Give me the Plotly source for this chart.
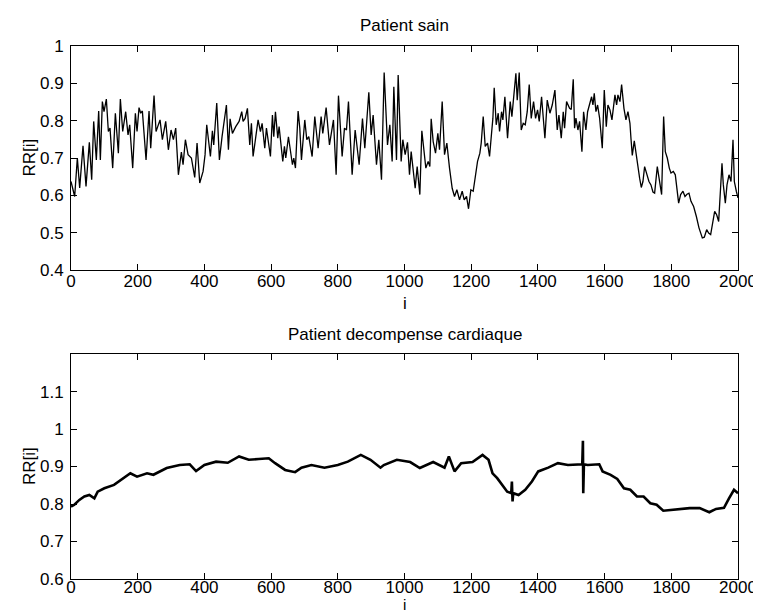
import plotly.graph_objects as go

# ---- Data (index, RR value) ----
sain_i = [0, 11, 19, 26, 36, 45, 55, 62, 68, 76, 83, 88, 94, 99, 106, 112, 117, 125, 133, 142,
          148, 155, 164, 171, 176, 185, 193, 198, 204, 209, 214, 225, 234, 239, 249, 255, 260, 267,
          274, 284, 292, 300, 307, 314, 322, 331, 336, 343, 351, 361, 371, 378, 386, 396, 402, 407,
          418, 424, 428, 437, 445, 453, 466, 472, 477, 484, 494, 504, 512, 516, 522, 529, 536, 541,
          546, 561, 568, 573, 581, 586, 598, 604, 608, 613, 620, 624, 635, 640, 644, 652, 664, 668,
          673, 681, 686, 691, 701, 707, 713, 723, 731, 741, 750, 755, 765, 775, 787, 795, 802, 808,
          813, 820, 826, 832, 843, 852, 864, 874, 881, 893, 900, 906, 916, 923, 931, 939, 949, 956,
          963, 968, 976, 981, 990, 995, 1002, 1009, 1015, 1020, 1032, 1038, 1046, 1052, 1058, 1064,
          1071, 1076, 1080, 1086, 1093, 1100, 1105, 1113, 1120, 1127, 1135, 1143, 1150, 1157, 1165,
          1173, 1179, 1186, 1192, 1199, 1206, 1212, 1219, 1226, 1230, 1236, 1242, 1249, 1255, 1261,
          1265, 1269, 1275, 1281, 1285, 1291, 1295, 1301, 1309, 1317, 1322, 1328, 1334, 1338, 1344,
          1350, 1356, 1362, 1368, 1374, 1380, 1387, 1393, 1399, 1404, 1411, 1421, 1428, 1436, 1443,
          1451, 1458, 1463, 1470, 1476, 1480, 1486, 1495, 1500, 1506, 1510, 1514, 1520, 1525, 1532,
          1537, 1544, 1549, 1554, 1561, 1565, 1569, 1574, 1579, 1585, 1593, 1599, 1605, 1610, 1616,
          1622, 1626, 1631, 1636, 1640, 1646, 1651, 1658, 1664, 1670, 1676, 1679, 1683, 1689, 1693,
          1699, 1705, 1710, 1715, 1720, 1727, 1733, 1739, 1745, 1750, 1758, 1771, 1777, 1782, 1788,
          1794, 1799, 1806, 1812, 1822, 1828, 1835, 1841, 1847, 1853, 1859, 1867, 1875, 1883, 1893,
          1899, 1906, 1912, 1918, 1924, 1930, 1936, 1942, 1952, 1956, 1962, 1967, 1973, 1979, 1985,
          1989, 1995, 2000]
sain_rr = [0.637, 0.597, 0.700, 0.620, 0.733, 0.624, 0.742, 0.642, 0.798, 0.695, 0.826, 0.695, 0.851,
           0.824, 0.858, 0.771, 0.780, 0.673, 0.820, 0.713, 0.858, 0.771, 0.824, 0.762, 0.789, 0.673,
           0.820, 0.771, 0.835, 0.820, 0.826, 0.695, 0.826, 0.726, 0.867, 0.771, 0.784, 0.802, 0.749,
           0.798, 0.722, 0.775, 0.749, 0.780, 0.655, 0.716, 0.682, 0.749, 0.709, 0.700, 0.648, 0.740,
           0.633, 0.664, 0.709, 0.789, 0.704, 0.773, 0.735, 0.847, 0.695, 0.758, 0.842, 0.722, 0.805,
           0.766, 0.784, 0.798, 0.824, 0.798, 0.806, 0.833, 0.735, 0.793, 0.704, 0.802, 0.771, 0.793,
           0.726, 0.780, 0.704, 0.815, 0.757, 0.824, 0.753, 0.784, 0.691, 0.731, 0.700, 0.757, 0.682,
           0.700, 0.673, 0.826, 0.780, 0.695, 0.802, 0.749, 0.757, 0.704, 0.811, 0.726, 0.811, 0.766,
           0.835, 0.735, 0.802, 0.655, 0.867, 0.793, 0.704, 0.780, 0.775, 0.851, 0.655, 0.775, 0.682,
           0.806, 0.726, 0.876, 0.762, 0.815, 0.682, 0.749, 0.642, 0.929, 0.735, 0.789, 0.691, 0.891,
           0.695, 0.922, 0.691, 0.749, 0.709, 0.742, 0.655, 0.717, 0.619, 0.677, 0.602, 0.773, 0.713,
           0.673, 0.691, 0.677, 0.805, 0.744, 0.713, 0.766, 0.722, 0.851, 0.709, 0.740, 0.673, 0.619,
           0.597, 0.615, 0.588, 0.611, 0.588, 0.597, 0.564, 0.615, 0.611, 0.655, 0.691, 0.713, 0.740,
           0.811, 0.731, 0.740, 0.704, 0.766, 0.806, 0.888, 0.789, 0.820, 0.771, 0.824, 0.802, 0.864,
           0.753, 0.851, 0.811, 0.869, 0.927, 0.855, 0.929, 0.775, 0.793, 0.789, 0.824, 0.897, 0.806,
           0.851, 0.806, 0.829, 0.798, 0.864, 0.753, 0.855, 0.820, 0.842, 0.882, 0.775, 0.815, 0.753,
           0.824, 0.780, 0.851, 0.833, 0.830, 0.911, 0.780, 0.807, 0.775, 0.798, 0.717, 0.824, 0.775,
           0.824, 0.842, 0.864, 0.842, 0.873, 0.824, 0.842, 0.807, 0.726, 0.882, 0.784, 0.842, 0.829,
           0.802, 0.838, 0.869, 0.842, 0.869, 0.851, 0.897, 0.833, 0.802, 0.824, 0.793, 0.753, 0.707,
           0.746, 0.717, 0.673, 0.646, 0.621, 0.637, 0.677, 0.655, 0.637, 0.628, 0.609, 0.606, 0.677,
           0.602, 0.811, 0.717, 0.700, 0.673, 0.660, 0.664, 0.655, 0.579, 0.602, 0.611, 0.597, 0.603,
           0.606, 0.584, 0.570, 0.544, 0.513, 0.486, 0.488, 0.508, 0.499, 0.495, 0.522, 0.557, 0.548,
           0.530, 0.686, 0.628, 0.579, 0.628, 0.655, 0.637, 0.749, 0.637, 0.611, 0.593]

decomp_i = [0, 10, 25, 40, 55, 70, 80, 90, 100, 129, 159, 178, 198, 228, 247, 267, 287, 326, 356,
            375, 400, 435, 470, 504, 533, 563, 593, 612, 642, 672, 691, 721, 760, 800, 830, 869,
            898, 928, 938, 977, 1017, 1046, 1086, 1120, 1133, 1150, 1170, 1204, 1234, 1252, 1264,
            1278, 1293, 1308, 1320, 1322, 1324, 1326, 1342, 1362, 1382, 1401, 1431, 1460, 1490,
            1520, 1533, 1535, 1536, 1538, 1549, 1584, 1594, 1618, 1638, 1658, 1677, 1697, 1717,
            1737, 1756, 1776, 1796, 1825, 1855, 1885, 1914, 1934, 1958, 1973, 1988, 2000]
decomp_rr = [0.793, 0.798, 0.811, 0.820, 0.824, 0.815, 0.833, 0.838, 0.842, 0.851, 0.869, 0.882,
             0.873, 0.882, 0.878, 0.887, 0.896, 0.904, 0.906, 0.888, 0.904, 0.913, 0.910, 0.927,
             0.918, 0.920, 0.922, 0.909, 0.891, 0.885, 0.897, 0.904, 0.897, 0.904, 0.913, 0.931,
             0.918, 0.897, 0.904, 0.918, 0.912, 0.896, 0.912, 0.897, 0.927, 0.887, 0.909, 0.912,
             0.931, 0.918, 0.882, 0.869, 0.851, 0.833, 0.829, 0.860, 0.807, 0.829, 0.824, 0.838,
             0.860, 0.887, 0.897, 0.909, 0.904, 0.906, 0.906, 0.969, 0.829, 0.906, 0.904, 0.906,
             0.887, 0.878, 0.867, 0.842, 0.838, 0.820, 0.820, 0.802, 0.798, 0.782, 0.784, 0.786,
             0.789, 0.789, 0.778, 0.787, 0.790, 0.815, 0.838, 0.829]

x_ticks = [0, 200, 400, 600, 800, 1000, 1200, 1400, 1600, 1800, 2000]
top_yticks = [0.4, 0.5, 0.6, 0.7, 0.8, 0.9, 1.0]
top_ylabels = ["0.4", "0.5", "0.6", "0.7", "0.8", "0.9", "1"]
bot_yticks = [0.6, 0.7, 0.8, 0.9, 1.0, 1.1]
bot_ylabels = ["0.6", "0.7", "0.8", "0.9", "1", "1.1"]

FONT = "Liberation Sans, Arial, Helvetica, sans-serif"
FS = 17

fig = go.Figure()
fig.add_trace(go.Scatter(x=sain_i, y=sain_rr, mode="lines",
                         line=dict(color="black", width=1.3), xaxis="x", yaxis="y",
                         showlegend=False, hoverinfo="skip"))
fig.add_trace(go.Scatter(x=decomp_i, y=decomp_rr, mode="lines",
                         line=dict(color="black", width=2.6), xaxis="x2", yaxis="y2",
                         showlegend=False, hoverinfo="skip"))

axis_common = dict(showline=True, linecolor="black", linewidth=1, mirror="ticks",
                   ticks="inside", ticklen=6, tickwidth=1, tickcolor="black",
                   showgrid=False, zeroline=False,
                   tickfont=dict(family=FONT, size=FS, color="black"))

fig.update_layout(
    width=761, height=612,
    margin=dict(l=63, r=22, t=38, b=41),
    paper_bgcolor="white", plot_bgcolor="white",
    font=dict(family=FONT, size=FS, color="black"),
    xaxis=dict(domain=[0, 1], anchor="y", range=[0, 2000], tickvals=x_ticks,
               ticklabelstandoff=-4, **axis_common),
    yaxis=dict(domain=[0.5797, 1], anchor="x", range=[0.4, 1.0], tickvals=top_yticks,
               ticktext=top_ylabels, ticklabelstandoff=3, **axis_common),
    xaxis2=dict(domain=[0, 1], anchor="y2", range=[0, 2000], tickvals=x_ticks,
                ticklabelstandoff=-7, **axis_common),
    yaxis2=dict(domain=[0, 0.422], anchor="x2", range=[0.6, 1.2], tickvals=bot_yticks,
                ticktext=bot_ylabels, ticklabelstandoff=3, **axis_common),
)

def ann(text, x, y, angle=0, size=FS, yanchor="middle"):
    fig.add_annotation(text=text, x=x, y=y, xref="paper", yref="paper",
                       xanchor="center", yanchor=yanchor, showarrow=False,
                       textangle=angle, borderpad=0,
                       font=dict(family=FONT, size=size, color="black"))

ann("Patient sain", 0.5, 1.039)
ann("i", 0.5, 0.5160)
ann("RR[i]", -0.0621, 0.79, -90)
ann("Patient decompense cardiaque", 0.5, 0.4578)
ann("i", 0.5, -0.0657, size=15, yanchor="bottom")
ann("RR[i]", -0.0621, 0.211, -90)

fig.write_html("out.html")
